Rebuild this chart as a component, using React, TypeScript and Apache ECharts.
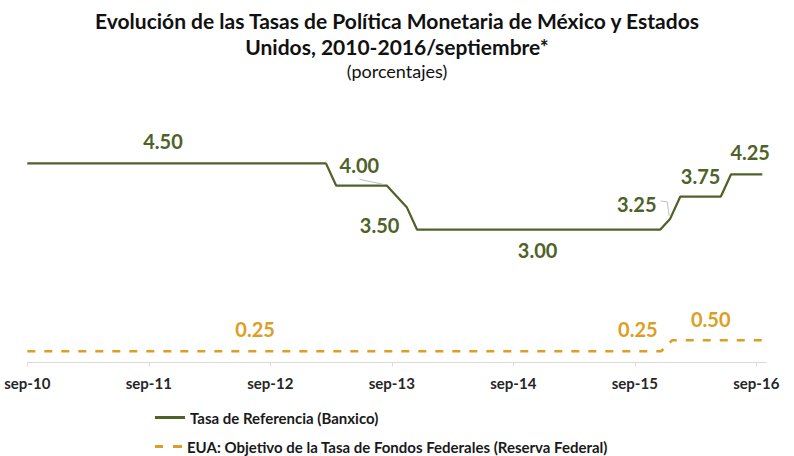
import React, { useEffect, useRef } from "react";
import * as echarts from "echarts";

// Months elapsed since September 2010 (x) and rate in percent (y)
const banxicoMonths = [0, 29.5, 30.5, 35.5, 36.5, 37.5, 38.5, 62.5, 63.5, 64.5, 68.5, 69.5, 72.6];
const banxicoRates = [4.5, 4.5, 4.0, 4.0, 3.75, 3.5, 3.0, 3.0, 3.25, 3.75, 3.75, 4.25, 4.25];
const fedMonths = [0, 62.6, 63.7, 72.6];
const fedRates = [0.25, 0.25, 0.5, 0.5];

// Axis ticks (months since sep-10) and their labels
const tickMonths = [0, 12, 24, 36, 48, 60, 72];
const tickLabels = ["sep-10", "sep-11", "sep-12", "sep-13", "sep-14", "sep-15", "sep-16"];

// Value annotations (text value, anchor month, anchor level)
const banxicoLabelValues = [4.5, 4.0, 3.5, 3.0, 3.25, 3.75, 4.25];
const banxicoLabelMonths = [13.4, 32.8, 34.8, 50.4, 60.2, 66.5, 71.4];
const banxicoLabelLevels = [5.01, 4.46, 3.1, 2.54, 3.58, 4.21, 4.75];
const fedLabelValues = [0.25, 0.25, 0.5];
const fedLabelMonths = [22.5, 60.3, 67.5];
const fedLabelLevels = [0.75, 0.75, 0.97];

// Leader lines
const leader1Months = [32.8, 35.1];
const leader1Levels = [4.14, 4.03];
const leader2Months = [62.55, 63.2, 63.4];
const leader2Levels = [3.65, 3.63, 3.31];

const BX_NAME = "Tasa de Referencia (Banxico)";
const FED_NAME = "EUA: Objetivo de la Tasa de Fondos Federales (Reserva Federal)";

const GREEN = "#4F6228";
const GOLD = "#DC9E24";
const FONT = "Lato, 'Open Sans', sans-serif";

const zip = (a: number[], b: number[]) => a.map((v, i) => [v, b[i]]);

export default function App() {
  const ref = useRef<HTMLDivElement>(null);
  useEffect(() => {
    if (!ref.current) return;
    const chart = echarts.init(ref.current, undefined, { renderer: "svg" });
    const labelData = (vals: number[], ms: number[], ls: number[]) =>
      vals.map((v, i) => ({ value: [ms[i], ls[i]], name: v.toFixed(2) }));
    const legendText = { fontFamily: FONT, fontSize: 15, fontWeight: "bold", color: "#1a1a1a" };
    const labelSeries = (name: string, data: any[], color: string) => ({
      name,
      type: "scatter",
      symbolSize: 0,
      silent: true,
      clip: false,
      itemStyle: { color, opacity: 1 },
      data,
      label: {
        show: true,
        position: "inside",
        formatter: (p: any) => p.name,
        fontFamily: FONT,
        fontSize: 20,
        fontWeight: "bold",
        color,
        opacity: 1,
      },
    });
    chart.setOption({
      animation: false,
      backgroundColor: "#ffffff",
      textStyle: { fontFamily: FONT },
      title: {
        text: "Evolución de las Tasas de Política Monetaria de México y Estados\nUnidos, 2010-2016/septiembre*",
        subtext: "(porcentajes)",
        left: "center",
        top: 2,
        itemGap: 2,
        textStyle: { fontFamily: FONT, fontSize: 21, fontWeight: "bold", color: "#111", lineHeight: 26 },
        subtextStyle: { fontFamily: FONT, fontSize: 18, color: "#111", lineHeight: 20 },
      },
      legend: [
        {
          data: [{ name: BX_NAME, icon: "rect" }],
          left: 150,
          top: 405,
          itemWidth: 30,
          itemHeight: 3,
          textStyle: legendText,
        },
        {
          data: [{ name: FED_NAME, icon: "path://M0 0H8V3H0Z M18 0H27V3H18Z" }],
          left: 150,
          top: 434,
          itemWidth: 27,
          itemHeight: 3,
          textStyle: legendText,
        },
      ],
      grid: { left: 27.3, right: 27.6, top: 119.2, bottom: 93.7 },
      xAxis: {
        type: "value",
        min: 0,
        max: 73,
        interval: 12,
        splitLine: { show: false },
        axisLine: { show: true, lineStyle: { color: "#D9D9D9", width: 1 } },
        axisTick: { show: true, length: 4, lineStyle: { color: "#D9D9D9" }, customValues: tickMonths },
        axisLabel: {
          customValues: tickMonths,
          formatter: (v: number) => tickLabels[tickMonths.indexOf(v)] ?? "",
          fontFamily: FONT,
          fontSize: 15,
          fontWeight: "bold",
          color: "#262626",
          margin: 13,
        },
      },
      yAxis: { type: "value", min: 0, max: 5.5, show: false },
      series: [
        {
          name: BX_NAME,
          type: "line",
          data: zip(banxicoMonths, banxicoRates),
          symbol: "none",
          lineStyle: { color: GREEN, width: 2.25 },
          itemStyle: { color: GREEN },
        },
        {
          name: FED_NAME,
          type: "line",
          data: zip(fedMonths, fedRates),
          symbol: "none",
          lineStyle: { color: GOLD, width: 2.5, type: [8, 9] },
          itemStyle: { color: GOLD },
        },
        {
          name: "leader1",
          type: "line",
          data: zip(leader1Months, leader1Levels),
          symbol: "none",
          silent: true,
          lineStyle: { color: "#BFBFBF", width: 1 },
        },
        {
          name: "leader2",
          type: "line",
          data: zip(leader2Months, leader2Levels),
          symbol: "none",
          silent: true,
          lineStyle: { color: "#BFBFBF", width: 1 },
        },
        labelSeries("bxLabels", labelData(banxicoLabelValues, banxicoLabelMonths, banxicoLabelLevels), GREEN),
        labelSeries("fedLabels", labelData(fedLabelValues, fedLabelMonths, fedLabelLevels), GOLD),
      ],
    });
    return () => chart.dispose();
  }, []);
  return <div ref={ref} style={{ position: "fixed", left: 0, top: 0, width: 794, height: 456 }} />;
}
